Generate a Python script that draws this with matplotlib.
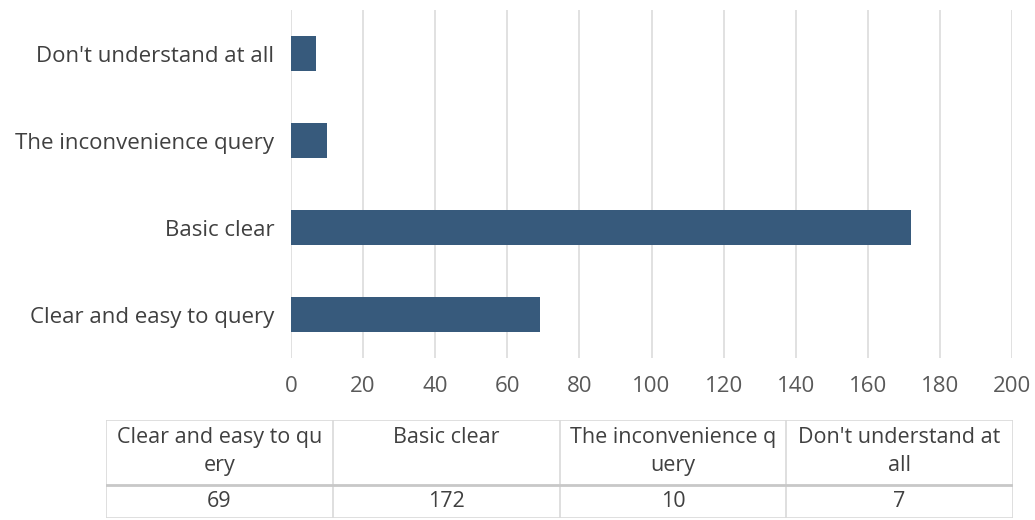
import matplotlib.pyplot as plt

categories = ["Clear and easy to query", "Basic clear",
              "The inconvenience query", "Don't understand at all"]
counts = [69, 172, 10, 7]
table_headers = ["Clear and easy to qu\nery", "Basic clear",
                 "The inconvenience q\nuery", "Don't understand at\nall"]
x_ticks = list(range(0, 201, 20))

bar_color = "#375a7c"
text_color = "#404040"
grid_color = "#d9d9d9"
main_font = ["Open Sans", "DejaVu Sans"]

fig = plt.figure(figsize=(10.35, 5.2), dpi=100)

# bar chart
ax = fig.add_axes([291 / 1035, 1 - 358 / 520, (1012 - 291) / 1035, 348 / 520])
ax.barh(range(len(categories)), counts, height=0.4, color=bar_color, zorder=3)
ax.set_xlim(0, 200)
ax.set_ylim(-0.5, len(categories) - 0.5)
ax.set_xticks(x_ticks)
ax.set_xticklabels([str(t) for t in x_ticks], fontsize=16, family=main_font,
                   color="#595959")
ax.set_yticks(range(len(categories)))
ax.set_yticklabels(categories, fontsize=16, family=main_font, color=text_color)
ax.tick_params(axis="both", length=0)
ax.tick_params(axis="x", pad=13)
ax.tick_params(axis="y", pad=12)
ax.grid(axis="x", color=grid_color, linewidth=1.1, zorder=0)
for side in ax.spines.values():
    side.set_visible(False)

# data table below the chart
tab = fig.add_axes([106 / 1035, 1 - 518 / 520, (1013 - 106) / 1035, 98 / 520])
tab.set_xlim(0, len(categories))
tab.set_ylim(0, 3)
tab.axis("off")
line_kw = dict(color=grid_color, linewidth=1.2)
for x in range(len(categories) + 1):
    tab.plot([x, x], [0, 3], **line_kw)
tab.plot([0, len(categories)], [3, 3], **line_kw)
tab.plot([0, len(categories)], [1, 1], color="#c8c8c8", linewidth=2)
tab.plot([0, len(categories)], [0, 0], **line_kw)
for i, (head, val) in enumerate(zip(table_headers, counts)):
    tab.text(i + 0.5, 2.78, head, ha="center", va="top", fontsize=15.5,
             family=main_font, color=text_color, linespacing=1.4)
    tab.text(i + 0.5, 0.5, str(val), ha="center", va="center", fontsize=15.5,
             family=main_font, color=text_color)

fig.savefig("out.png", dpi=100)
